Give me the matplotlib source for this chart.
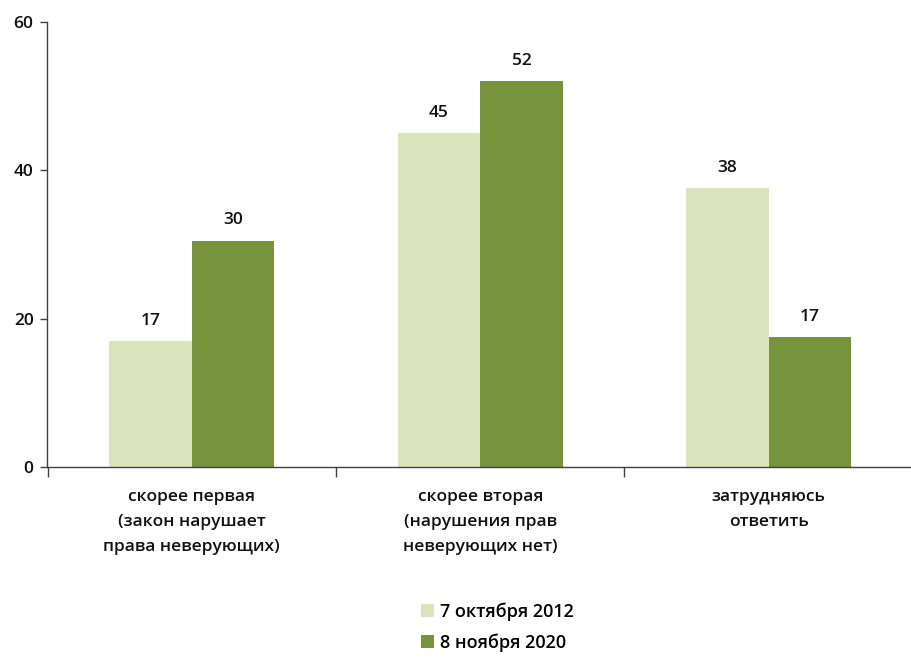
import numpy as np
import matplotlib
matplotlib.use('Agg')
import matplotlib.pyplot as plt
from matplotlib.patches import Patch

plt.rcParams['font.family'] = ['Open Sans', 'DejaVu Sans']
plt.rcParams['font.weight'] = 600

categories = ['скорее первая\n(закон нарушает\nправа неверующих)',
              'скорее вторая\n(нарушения прав\nневерующих нет)',
              'затрудняюсь\nответить']
series_names = ['7 октября 2012', '8 ноября 2020']
values_2012 = [17, 45, 37.6]
values_2020 = [30.5, 52, 17.5]
labels_2012 = ['17', '45', '38']
labels_2020 = ['30', '52', '17']
colors = ['#d9e4bd', '#77933c']

fig = plt.figure(figsize=(9.12, 6.57), dpi=100)
ax = fig.add_axes([47.5 / 912, 0.289, 865.5 / 912, 0.6775])

x = np.arange(len(categories))
w = 0.286
b1 = ax.bar(x - w / 2, values_2012, w, color=colors[0], label=series_names[0])
b2 = ax.bar(x + w / 2, values_2020, w, color=colors[1], label=series_names[1])

for bars, labs in ((b1, labels_2012), (b2, labels_2020)):
    for bar, lab in zip(bars, labs):
        ax.annotate(lab, (bar.get_x() + bar.get_width() / 2, bar.get_height()),
                    xytext=(0, 9), textcoords='offset points',
                    ha='center', va='bottom', fontsize=12.5, color='#111111')

ax.set_xlim(-0.5, 2.5)
ax.set_ylim(0, 60)
ax.set_yticks([0, 20, 40, 60])
ax.tick_params(axis='y', length=5, width=1, color='#404040', labelsize=12.5, pad=5,
               labelcolor='#111111')
ax.set_xticks(x)
ax.set_xticklabels(categories, fontsize=12.5, linespacing=1.75, color='#111111')
ax.tick_params(axis='x', length=0, pad=16)
ax.set_xticks([-0.5, 0.5, 1.5, 2.5], minor=True)
ax.tick_params(axis='x', which='minor', length=7, width=1, color='#404040')

for s in ['top', 'right']:
    ax.spines[s].set_visible(False)
for s in ['left', 'bottom']:
    ax.spines[s].set_color('#404040')
    ax.spines[s].set_linewidth(1)

handles = [Patch(facecolor=c, label=n) for c, n in zip(colors, series_names)]
fig.legend(handles=handles, loc='center', bbox_to_anchor=(497 / 912, 1 - 627 / 657),
           frameon=False, fontsize=13, handlelength=0.75, handleheight=0.75,
           handletextpad=0.3, labelspacing=0.7)

plt.savefig('out.png', dpi=100)
